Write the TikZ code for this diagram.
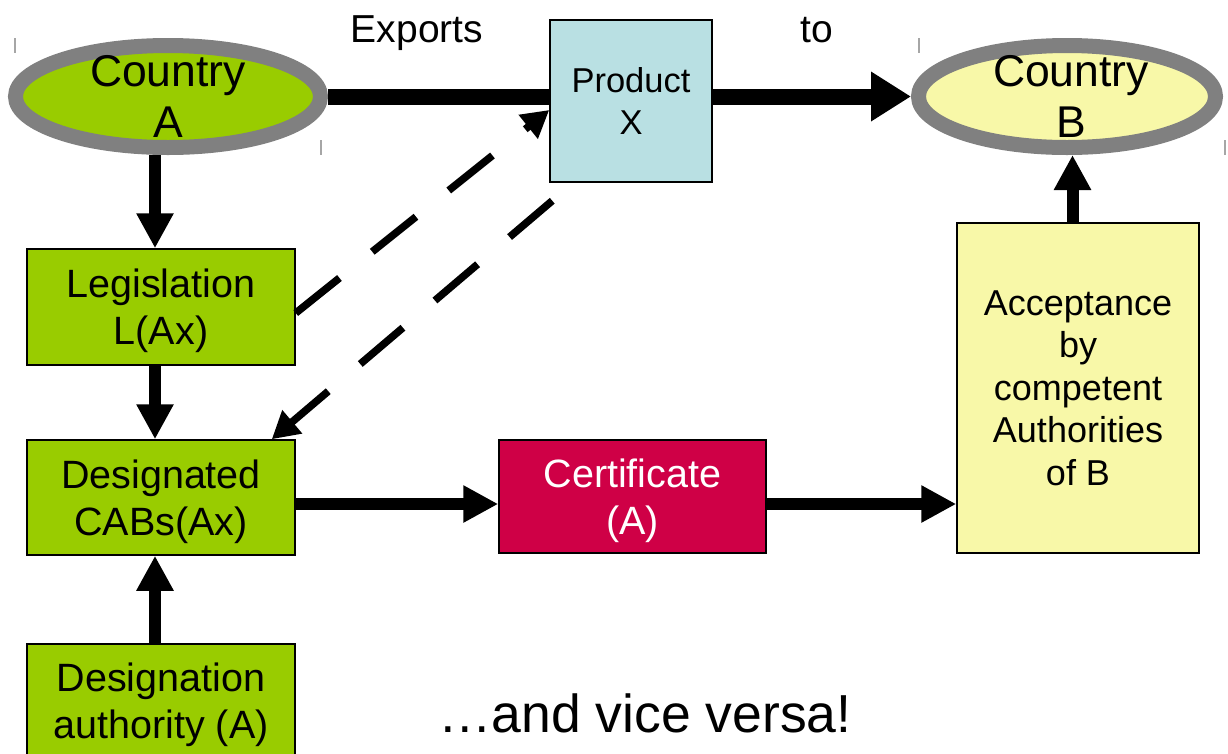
\documentclass[tikz,border=0pt]{standalone}
\usepackage{fontspec}
\setmainfont{Liberation Sans}
\usetikzlibrary{arrows.meta,shapes.geometric,calc}
\definecolor{cgreen}{HTML}{99CC00}
\definecolor{cyellow}{HTML}{F8F8A8}
\definecolor{cblue}{HTML}{B9E0E3}
\definecolor{ccrimson}{HTML}{CF0046}
\definecolor{cgrayb}{HTML}{808080}
\begin{document}
\begin{tikzpicture}[x=1pt,y=-1pt,
 box/.style={draw=black, line width=1.5pt, inner sep=0pt, align=center, text depth=0pt, font=\fontsize{39.5}{47}\selectfont},
 country/.style={ellipse, draw=cgrayb, line width=15pt, inner sep=0pt, minimum height=102pt},
 ctext/.style={align=center, font=\fontsize{44.5}{51}\selectfont},
 thickarr/.style={line width=12pt, -{Triangle[length=35pt,width=35pt]}},
 mainline/.style={line width=16pt},
 dasharr/.style={line width=7.5pt, dash pattern=on 56pt off 42pt, -{Triangle[length=27pt,width=29pt]}},
 handle/.style={draw=black!35, line width=1.2pt},
 toptext/.style={font=\fontsize{39}{46}\selectfont, anchor=base}
]
\path[use as bounding box] (0,0) rectangle (1228,753);
\clip (0,0) rectangle (1228,753);

% countries
\node[country, fill=cgreen, minimum width=305pt] (ca) at (168,96.5) {};
\node[country, fill=cyellow, minimum width=297pt] (cb) at (1067,96.5) {};
\node[ctext] (catext) at (ca.center) {Country\\A};
\node[ctext] (cbtext) at ($(cb.center)+(4,0)$) {Country\\B};

% boxes
\node[box, fill=cblue, minimum width=162pt, minimum height=162pt, font=\fontsize{34.5}{41.5}\selectfont] (prod) at (631,101) {Product\\X};
\node[box, fill=cgreen, minimum width=268pt, minimum height=116pt] (leg) at (161,307) {Legislation\\L(Ax)};
\node[box, fill=cgreen, minimum width=268pt, minimum height=115pt] (des) at (161,497.5) {Designated\\CABs(Ax)};
\node[box, fill=cgreen, minimum width=268pt, minimum height=114pt] (dauth) at (161,701) {Designation\\authority (A)};
\node[box, fill=ccrimson, text=white, minimum width=267pt, minimum height=113pt] (cert) at (632.5,496.5) {Certificate\\(A)};
\node[box, fill=cyellow, minimum width=242pt, minimum height=330pt, font=\fontsize{36}{42.5}\selectfont] (acc) at (1078,388) {Acceptance\\by\\competent\\Authorities\\of B};

% free texts
\node[toptext] (exports) at (417,42) {Exports};
\node[toptext] (to) at (817,42) {to};
\node[font=\fontsize{53.5}{60}\selectfont, anchor=base] (vv) at (645,732) {…and vice versa!};

% main export line
\draw[mainline] (ca) -- (prod.west |- ca);
\draw[mainline, -{Triangle[length=40pt,width=47pt]}] (prod.east |- cb) -- (cb);

% vertical arrows
\coordinate (vx) at (155,0);
\draw[thickarr] (ca.south -| vx) -- (leg.north -| vx);
\draw[thickarr] (leg.south -| vx) -- (des.north -| vx);
\draw[thickarr] (dauth.north -| vx) -- (des.south -| vx);
\coordinate (vx2) at (1072.5,0);
\draw[thickarr] (acc.north -| vx2) -- (cb.south -| vx2);

% horizontal arrows
\coordinate (hy) at (0,504);
\draw[thickarr] (des.east |- hy) -- (cert.west |- hy);
\draw[thickarr] (cert.east |- hy) -- (acc.west |- hy);

% dashed arrows
\coordinate (d1s) at ($(leg.east)+(0,6)$);
\coordinate (d1e) at ($(prod.west)+(0,9)$);
\draw[dasharr] (d1s) -- (d1e);
\coordinate (d2s) at ($(prod.south west)+(3,18)$);
\coordinate (d2e) at ($(des.north east)+(-24,0)$);
\draw[dasharr] (d2s) -- (d2e);

% selection handles
\draw[handle] (15,38) -- (15,53);
\draw[handle] (321,140) -- (321,155);
\draw[handle] (919,38) -- (919,53);
\draw[handle] (1225,140) -- (1225,155);
\end{tikzpicture}
\end{document}
